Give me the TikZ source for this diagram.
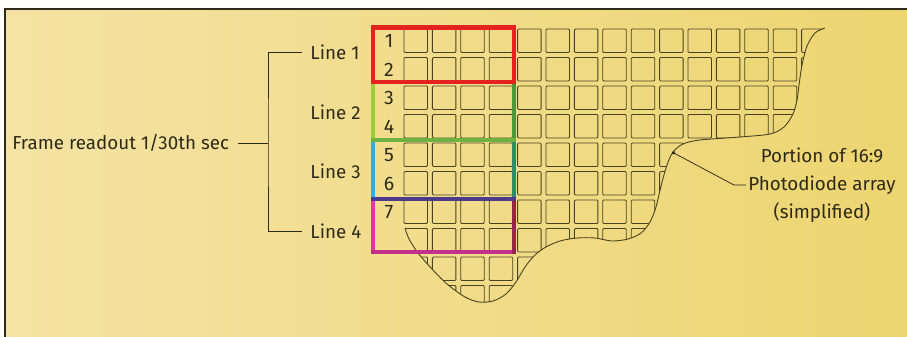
\documentclass[tikz,border=0pt]{standalone}
\usepackage{fontspec}
\setmainfont{Fira Sans}
\usetikzlibrary{arrows.meta,calc}
\definecolor{paper}{HTML}{FBF0CF}
\definecolor{sand}{HTML}{F5E3A4}
\definecolor{straw}{HTML}{EDD570}
\definecolor{ink}{HTML}{2E2A1A}
\definecolor{cellink}{HTML}{4A4422}
\definecolor{lnred}{HTML}{E4231E}
\definecolor{lnlime}{HTML}{9CCB3B}
\definecolor{lngreen}{HTML}{6FB042}
\definecolor{lnforest}{HTML}{4E9A3A}
\definecolor{lncyan}{HTML}{35ADD3}
\definecolor{lnteal}{HTML}{2C8C6C}
\definecolor{lnviolet}{HTML}{4E3A8C}
\definecolor{lnmagenta}{HTML}{E0399B}
\definecolor{lnplum}{HTML}{9A2250}
\definecolor{lnorchid}{HTML}{C2308C}

\begin{document}
\begin{tikzpicture}[
  x=1pt, y=-1pt, line width=.8pt,
  wire/.style={draw=ink, line width=.75pt},
  cell/.style={draw=cellink, line width=.85pt, rounded corners=1pt},
  rim/.style={draw=cellink, line width=.9pt},
  band/.style={line width=3.6pt, line cap=rect},
  lab/.style={font=\fontsize{18.8}{28}\selectfont, text=ink, inner sep=2pt},
  num/.style={font=\fontsize{19.5}{22}\selectfont, text=ink, inner sep=0pt},
]
  \useasboundingbox (0,0) rectangle (907,337);

  % Page: printed panel with a rule on top and left.
  \fill[white!96!paper] (0,0) rectangle (907,337);
  \shade[left color=sand, middle color=paper, right color=straw] (5,9) rectangle (907,337);
  \draw[ink, line width=1.2pt] (907,9) -- (5,9) -- (5,337);

  % Grid origin, pitch and cell size.
  \def\gx{404} \def\gy{29} \def\px{28.4} \def\py{28.5} \def\cs{23.5}

  % Photodiode cells, cut off by the torn edge.
  \begin{scope}
    \clip (400,20) -- (840,20) -- plot[smooth] coordinates {
      (825,28) (815,33) (807,46) (802,65) (799,85) (797,100) (793,114) (784,127)
      (770,134) (740,137) (700,140) (683,144) (673,152) (667,165) (661,186)
      (656,207) (650,222) (641,233) (628,239) (612,241) (595,238) (577,238)
      (560,241) (546,247) (535,255) (525,267) (516,282) (506,294) (493,301)
      (479,302) (465,297) (447,284) (432,269) (418,253) (409,239) (405,228)}
      -- (398,226) -- cycle;
    \foreach \i in {0,...,14}
      \foreach \j in {0,...,9}
        \draw[cell] (\gx+\i*\px, \gy+\j*\py) rectangle ++(\cs,\cs);
  \end{scope}
  \draw[rim] plot[smooth] coordinates {
      (825,28) (815,33) (807,46) (802,65) (799,85) (797,100) (793,114) (784,127)
      (770,134) (740,137) (700,140) (683,144) (673,152) (667,165) (661,186)
      (656,207) (650,222) (641,233) (628,239) (612,241) (595,238) (577,238)
      (560,241) (546,247) (535,255) (525,267) (516,282) (506,294) (493,301)
      (479,302) (465,297) (447,284) (432,269) (418,253) (409,239) (405,228)};

  % Row numbers.
  \foreach \n in {1,...,7}
    \node[num] (d\n) at (389, \gy+\n*\py-\py+12) {\n};

  % Readout lines, two rows each.
  \draw[band, lnmagenta] (373,199) -- (373,252);
  \draw[band, lnorchid] (373,252) -- (514,252);
  \draw[band, lnplum] (514,199) -- (514,252);
  \draw[band, lncyan] (373,140) -- (373,199);
  \draw[band, lnteal] (514,140) -- (514,199);
  \draw[band, lnviolet] (373,199) -- (514,199);
  \draw[band, lnlime] (373,82) -- (373,140);
  \draw[band, lnforest] (514,82) -- (514,140);
  \draw[band, lngreen] (373,140) -- (514,140);
  \draw[band, lnred, line width=4.4pt] (373,27.5) rectangle (514,82);

  % Labels on the left.
  \node[lab, anchor=west] (frame) at (10,143) {Frame readout 1/30th sec};
  \node[lab, anchor=west] (l1) at (308,52) {Line 1};
  \node[lab, anchor=west] (l2) at (308,112) {Line 2};
  \node[lab, anchor=west] (l3) at (308,171) {Line 3};
  \node[lab, anchor=west] (l4) at (308,231) {Line 4};
  \coordinate (hub) at (268,143);

  \draw[wire, shorten <=7pt] (frame.east) -- (hub);
  \draw[wire, shorten <=6pt, shorten >=6pt] (l1.west) -| (hub) |- (l4.west);

  % Callout on the right.
  \node[lab, align=center] (portion) at (822,185)
    {Portion of 16:9\\Photodiode array\\(simplified)};
  \coordinate (tip) at (672,152);
  \draw[wire, {Circle[length=3.4pt]}-] (tip) -- ([xshift=-12pt]portion.west) -- (portion.west);
\end{tikzpicture}
\end{document}
